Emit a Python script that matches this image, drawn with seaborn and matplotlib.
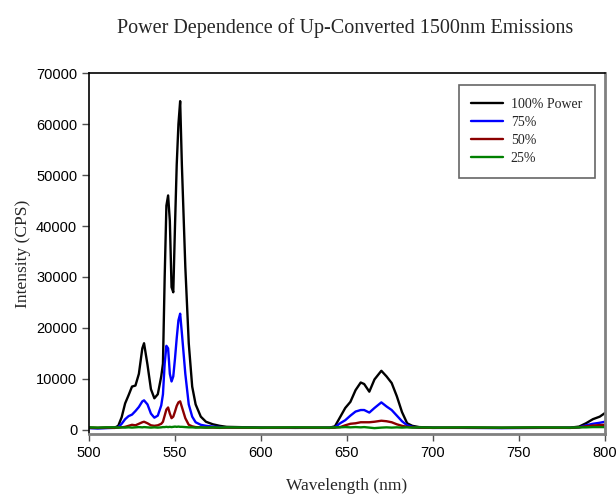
import numpy as np
import pandas as pd
import matplotlib
matplotlib.use("Agg")
import matplotlib.pyplot as plt
import seaborn as sns

# wavelengths (nm) shared by all series
wavelength = [500, 505, 510, 515, 517, 519, 521, 523, 525, 527, 529, 531, 532, 534, 536, 538,
              540, 542, 543, 544, 545, 546, 547, 548, 549, 550, 551, 552, 553, 554, 556, 558,
              560, 562, 565, 568, 572, 576, 580, 600, 620, 640, 643, 646, 649, 652, 655, 658,
              660, 663, 666, 670, 673, 676, 679, 682, 685, 688, 692, 700, 720, 740, 760, 780,
              785, 789, 793, 797, 800]

p100 = [400, 350, 400, 450, 800, 2500, 5200, 6800, 8500, 8700, 11000, 16000, 17000, 12800, 8000, 6200,
        7000, 10500, 13000, 30000, 44000, 46000, 41000, 28000, 27000, 40000, 52000, 60000, 64500, 52000, 32000, 17000,
        8500, 5000, 2600, 1600, 1100, 800, 600, 450, 400, 450, 700, 2500, 4300, 5500, 7800, 9300,
        9000, 7500, 9900, 11600, 10500, 9200, 6600, 3500, 1300, 800, 550, 450, 400, 400, 400, 450,
        650, 1300, 2100, 2600, 3300]

p75 = [350, 300, 350, 400, 500, 1200, 2100, 2700, 3000, 3700, 4500, 5600, 5800, 5000, 3200, 2400,
       2800, 4800, 7000, 13000, 16500, 16000, 11000, 9500, 10500, 14000, 18000, 21500, 22800, 19000, 11000, 5000,
       2600, 1500, 1000, 800, 650, 550, 500, 400, 400, 400, 500, 1300, 1900, 2800, 3600, 3900,
       3900, 3400, 4300, 5400, 4600, 3900, 2800, 1700, 900, 600, 450, 400, 400, 350, 400, 400,
       500, 900, 1200, 1400, 1600]

p50 = [450, 400, 450, 400, 450, 500, 600, 800, 1000, 900, 1200, 1500, 1600, 1300, 900, 800,
       900, 1200, 1600, 2800, 4000, 4400, 3200, 2300, 2600, 3600, 4700, 5400, 5600, 4500, 2300, 1000,
       700, 550, 500, 450, 450, 400, 450, 400, 450, 400, 450, 550, 900, 1200, 1300, 1500,
       1500, 1500, 1600, 1800, 1700, 1500, 1100, 800, 600, 500, 450, 400, 450, 400, 450, 400,
       500, 700, 850, 950, 1000]

p25 = [500, 450, 500, 500, 450, 500, 450, 500, 450, 500, 550, 500, 550, 500, 450, 500,
       450, 500, 550, 550, 600, 550, 600, 550, 600, 650, 600, 650, 600, 600, 550, 500,
       500, 450, 500, 450, 500, 450, 500, 450, 500, 450, 500, 500, 550, 500, 550, 500,
       550, 450, 350, 450, 500, 450, 500, 450, 500, 450, 500, 450, 500, 450, 500, 450,
       500, 500, 550, 550, 550]

labels = ["100% Power", "75%", "50%", "25%"]
colors = ["#000000", "#0000ff", "#8b0000", "#008000"]

df = pd.DataFrame({
    "wavelength": wavelength * 4,
    "intensity": p100 + p75 + p50 + p25,
    "series": sum([[lab] * len(wavelength) for lab in labels], []),
})

sns.set_style("ticks")
plt.rcParams["font.family"] = ["Liberation Sans", "DejaVu Sans"]

fig = plt.figure(figsize=(6.16, 4.94), dpi=100)
ax = fig.add_axes([0.1445, 0.1215, 0.8375, 0.7305])

sns.lineplot(data=df, x="wavelength", y="intensity", hue="series", hue_order=labels,
             palette=colors, linewidth=1.7, ax=ax, sort=False, estimator=None)

ax.set_xlim(500, 800)
ax.set_ylim(-800, 70000)
ax.set_xticks(range(500, 801, 50))
ax.set_yticks(range(0, 70001, 10000))
ax.tick_params(labelsize=10.5, direction="out", length=5, width=1, colors="#505050",
               labelcolor="black")

serif = ["Liberation Serif", "DejaVu Serif"]
ax.set_xlabel("Wavelength (nm)", fontsize=12.5, family=serif, labelpad=13)
ax.set_ylabel("Intensity (CPS)", fontsize=12.5, family=serif, labelpad=4)
fig.text(0.56, 0.943, "Power Dependence of Up-Converted 1500nm Emissions",
         ha="center", va="center", fontsize=14.5, family=serif)

for side in ["top", "left"]:
    ax.spines[side].set_color("black")
    ax.spines[side].set_linewidth(1.2)
for side in ["bottom", "right"]:
    ax.spines[side].set_color("#808080")
    ax.spines[side].set_linewidth(2)

leg = ax.legend(loc="upper right", bbox_to_anchor=(0.98, 0.967), frameon=True, fancybox=False,
                prop={"family": serif, "size": 10}, handlelength=2.3, handletextpad=0.55,
                borderpad=0.9, labelspacing=0.38, borderaxespad=0)
leg.get_frame().set_edgecolor("#404040")
leg.get_frame().set_linewidth(1.2)
for line in leg.get_lines():
    line.set_linewidth(1.7)

fig.savefig("out.png", dpi=100)
